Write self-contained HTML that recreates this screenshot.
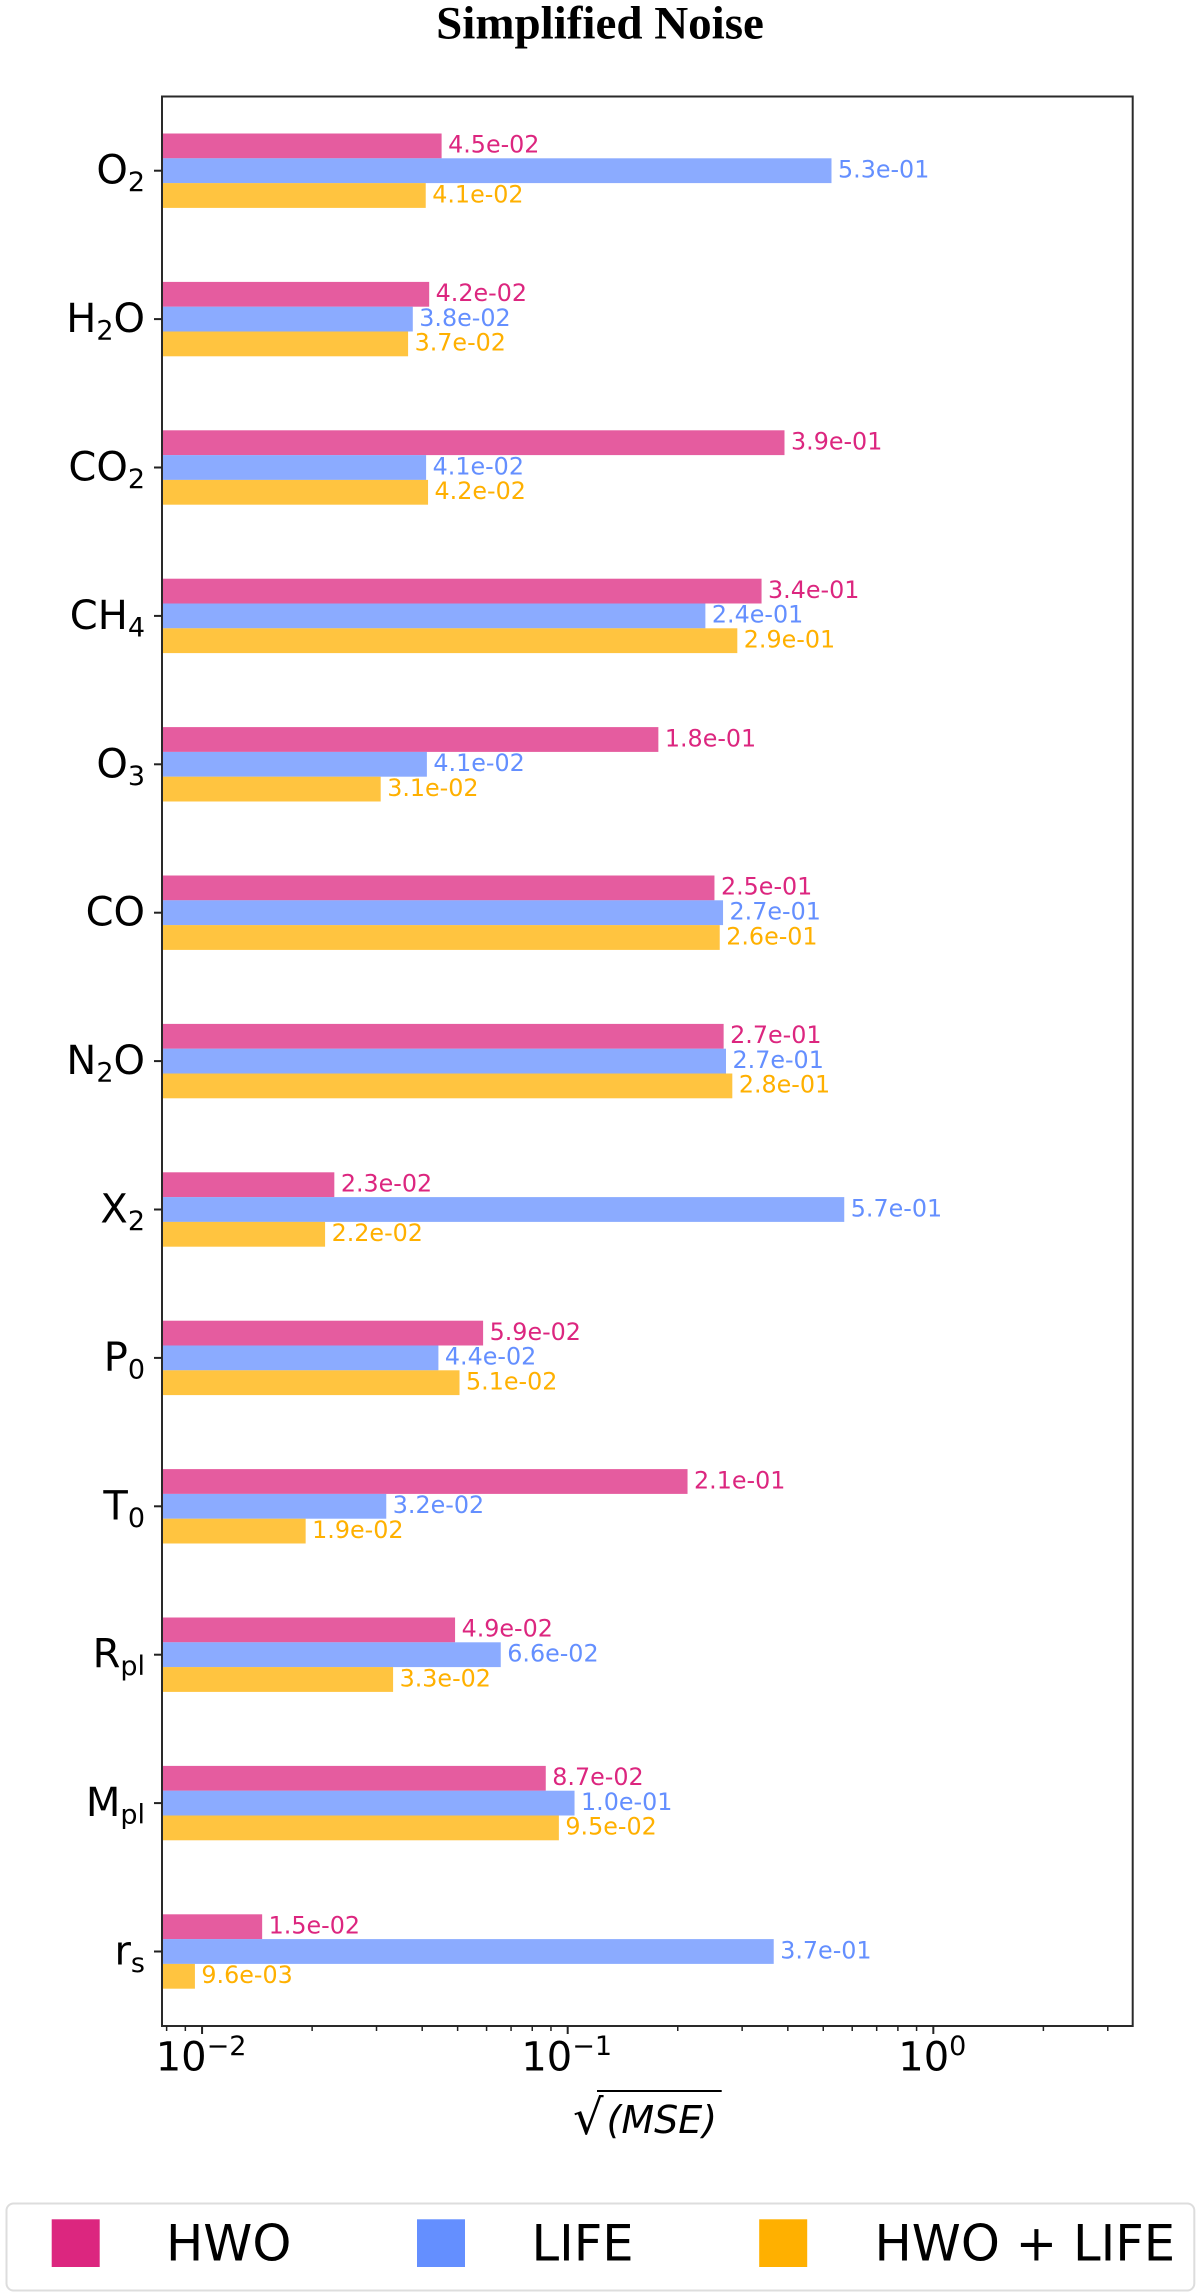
<!DOCTYPE html>
<html lang="en">
<head>
<meta charset="utf-8">
<title>Simplified Noise</title>
<style>
html,body{margin:0;padding:0;background:#fff;}
body{width:1200px;height:2296px;overflow:hidden;}
svg{display:block;}
text{font-family:"DejaVu Sans","Liberation Sans",sans-serif;}
</style>
</head>
<body>
<svg id="chart" xmlns="http://www.w3.org/2000/svg" width="1200" height="2296" viewBox="0 0 1200 2296">
  <rect x="0" y="0" width="1200" height="2296" fill="#ffffff"/>
  <text x="600" y="38.5" text-anchor="middle" font-size="47" font-weight="700" style="font-family:'Liberation Serif',serif" fill="#000">Simplified Noise</text>
  <g id="bars"></g>
  <g id="value-labels"></g>
  <rect x="162" y="96.5" width="970.7" height="1929.5" fill="none" stroke="#2a2a2a" stroke-width="2"/>
  <g id="y-axis"></g>
  <g id="x-axis"></g>
  <g>
    <text x="573" y="2134" font-size="48" fill="#000">√</text>
    <line x1="597" y1="2091" x2="721.7" y2="2091" stroke="#000" stroke-width="2"/>
    <text x="606.5" y="2133" font-size="38" font-style="italic" fill="#000">(MSE)</text>
  </g>
  <g>
    <rect x="6.5" y="2203.5" width="1187.8" height="87" rx="7" ry="7" fill="#fff" stroke="#dddddd" stroke-width="2"/>
    <rect x="51.7" y="2219.3" width="48" height="47.7" fill="#DC267F"/>
    <text x="166" y="2260.7" font-size="49.6" fill="#000">HWO</text>
    <rect x="417" y="2219.3" width="48" height="47.7" fill="#648FFF"/>
    <text x="531.5" y="2260.7" font-size="49.6" fill="#000">LIFE</text>
    <rect x="759.2" y="2219.3" width="48" height="47.7" fill="#FFB000"/>
    <text x="874.5" y="2260.7" font-size="49.6" fill="#000">HWO + LIFE</text>
  </g>
</svg>
<script>
const categories = ['O_2','H_2O','CO_2','CH_4','O_3','CO','N_2O','X_2','P_0','T_0','R_pl','M_pl','r_s'];
const hwoValues = [0.0452,0.0418,0.3917,0.339,0.177,0.252,0.267,0.0230,0.0587,0.2127,0.0492,0.0871,0.0146];
const lifeValues = [0.5266,0.0377,0.0410,0.238,0.0412,0.266,0.271,0.5707,0.0443,0.0319,0.0656,0.1044,0.366];
const comboValues = [0.0409,0.0366,0.0415,0.291,0.0308,0.2605,0.282,0.0217,0.0506,0.0192,0.0333,0.0946,0.00956];
const seriesKeys = ['hwo','life','hwo-life'];
const xTickExponents = [-2,-1,0];
const xMinorMantissas = [2,3,4,5,6,7,8,9];
const xMinorDecades = [-3,-2,-1,0];

const NS = 'http://www.w3.org/2000/svg';
const seriesValues = [hwoValues, lifeValues, comboValues];
const seriesColors = ['#DC267F','#648FFF','#FFB000'];
const plot = {left:162, right:1132.7, top:96.5, bottom:2026};
const xDomain = [0.00777, 3.51];
const rowFirst = 170.7, rowStep = 148.4, barH = 24.8;

function xScale(v){
  const a = Math.log10(xDomain[0]), b = Math.log10(xDomain[1]);
  return plot.left + (Math.log10(v) - a) / (b - a) * (plot.right - plot.left);
}
function rowCenter(i){ return rowFirst + rowStep * i; }
function formatValue(v){
  const parts = v.toExponential(1).split('e');
  const exp = parseInt(parts[1], 10);
  const abs = String(Math.abs(exp)).padStart(2, '0');
  return parts[0] + 'e' + (exp < 0 ? '-' : '+') + abs;
}
function make(tag, attrs, parent){
  const el = document.createElementNS(NS, tag);
  for (const k in attrs) el.setAttribute(k, attrs[k]);
  parent.appendChild(el);
  return el;
}

const barsG = document.getElementById('bars');
const labelsG = document.getElementById('value-labels');
const yG = document.getElementById('y-axis');
const xG = document.getElementById('x-axis');

categories.forEach(function(cat, i){
  const slug = cat.replace(/_/g, '').toLowerCase();
  const c = rowCenter(i);
  seriesValues.forEach(function(vals, s){
    const top = c + (s - 1.5) * barH;
    const x1 = xScale(vals[i]);
    const bar = make('rect', {x:plot.left, y:top, width:x1 - plot.left, height:barH, fill:seriesColors[s], 'fill-opacity':0.75}, barsG);
    
    
    const label = make('text', {x:x1 + 6.5, y:top + barH / 2 + 6.8, 'font-size':23.8, fill:seriesColors[s]}, labelsG);
    label.textContent = formatValue(vals[i]);
    
    
  });
  const tick = make('line', {x1:plot.left - 8, x2:plot.left, y1:c, y2:c, stroke:'#222', 'stroke-width':2}, yG);
  
  
  const t = make('text', {x:145, y:c + 13, 'text-anchor':'end', 'font-size':40, fill:'#000'}, yG);
  
  
  const pieces = cat.split(/_(\d|pl|s)/);
  let shift = 0;
  pieces.forEach(function(p, k){
    if (!p) return;
    const isSub = k % 2 === 1;
    const target = isSub ? 7.5 : 0;
    const span = make('tspan', {'font-size':isSub ? 27 : 40, dy:target - shift}, t);
    span.textContent = p;
    shift = target;
  });
});

xTickExponents.forEach(function(e){
  const x = xScale(Math.pow(10, e));
  const tick = make('line', {x1:x, x2:x, y1:plot.bottom, y2:plot.bottom + 8, stroke:'#222', 'stroke-width':2}, xG);
  
  
  const t = make('text', {x:x - 1, y:2070.7, 'text-anchor':'middle', 'font-size':40, fill:'#000'}, xG);
  
  
  const a = make('tspan', {}, t);
  a.textContent = '10';
  const b = make('tspan', {'font-size':27, dy:-15.5}, t);
  b.textContent = String(e).replace('-', '\u2212');
});

xMinorDecades.forEach(function(d){
  xMinorMantissas.forEach(function(m){
    const v = m * Math.pow(10, d);
    if (v < xDomain[0] || v > xDomain[1]) return;
    const x = xScale(v);
    const tick = make('line', {x1:x, x2:x, y1:plot.bottom, y2:plot.bottom + 5, stroke:'#222', 'stroke-width':1.5}, xG);
    
    
  });
});
</script>
</body>
</html>
